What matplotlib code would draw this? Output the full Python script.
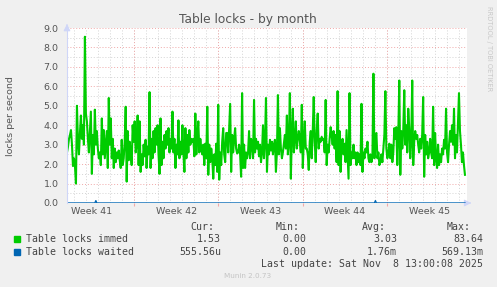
import numpy as np
import matplotlib.pyplot as plt
from matplotlib.patches import Rectangle

# Table locks per second, one sample every ~2 hours
immed = [
    2.6, 2.9, 3.3, 3.5, 3.75, 3.0, 1.9, 2.3, 1.9, 1.0, 5.0, 3.2, 2.5, 3.6, 4.5, 3.3, 4.0, 3.0,
    8.55, 4.6, 4.2, 3.3, 2.6, 3.6, 4.7, 1.5, 3.5, 2.5, 4.8, 3.0, 3.7, 2.8, 2.3, 2.6, 1.95, 4.35,
    2.5, 3.75, 2.3, 3.0, 3.7, 1.8, 5.4, 3.0, 4.35, 2.3, 3.3, 1.8, 2.8, 2.1, 2.6, 2.3, 2.7, 2.2,
    1.8, 3.25, 1.95, 2.3, 3.15, 4.95, 1.1, 3.7, 2.2, 3.15, 2.6, 1.95, 4.0, 3.15, 4.2, 2.6, 3.0,
    4.5, 1.95, 4.2, 1.6, 2.5, 1.95, 3.0, 2.4, 3.25, 1.8, 2.9, 2.5, 5.7,
    # week 42
    1.8, 3.3, 2.3, 3.7, 2.6, 3.85, 3.0, 4.0, 2.5, 1.5, 4.35, 1.95, 3.15, 2.3, 3.5, 2.8, 3.7, 3.0,
    3.85, 2.6, 3.3, 2.8, 4.7, 2.6, 3.3, 1.8, 3.0, 2.5, 4.25, 2.3, 3.15, 2.5, 4.0, 2.6, 1.6, 3.85,
    2.3, 3.5, 2.6, 3.75, 3.0, 3.3, 3.15, 3.3, 2.4, 4.6, 2.5, 3.5, 4.2, 2.6, 3.3, 2.8, 2.5, 3.0,
    1.95, 3.05, 2.3, 4.95, 1.45, 3.0, 2.1, 2.8, 2.3, 1.25, 2.5, 1.95, 3.05, 1.6, 5.05, 1.2, 2.6,
    1.95, 3.15, 3.85, 2.5, 2.1, 3.6,
    # week 43
    3.6, 2.6, 3.85, 5.1, 1.6, 3.5, 2.6, 3.3, 3.85, 2.8, 2.55, 2.6, 3.0, 2.5, 1.35, 5.65, 1.8, 3.0,
    1.8, 2.6, 2.3, 2.6, 3.7, 2.3, 3.3, 3.0, 2.3, 5.3, 2.6, 3.3, 2.8, 3.15, 2.4, 3.0, 2.1, 2.6,
    4.0, 2.3, 3.15, 5.4, 1.6, 3.0, 2.5, 3.25, 2.7, 3.15, 2.5, 3.0, 3.25, 1.6, 2.6, 5.55, 2.5,
    3.85, 2.8, 2.3, 2.6, 3.05, 3.5, 2.8, 4.5, 2.5, 3.15, 5.65, 1.25, 3.5, 4.85, 2.6, 3.3, 4.2,
    2.8, 3.3, 3.7, 3.25, 2.6, 5.05, 1.8, 3.15, 4.2, 2.8,
    # week 44
    2.8, 2.5, 1.7, 3.15, 3.7, 2.3, 3.7, 5.45, 3.15, 2.1, 3.7, 4.6, 2.8, 3.3, 3.15, 3.4, 3.25,
    3.3, 2.6, 5.3, 1.95, 3.0, 2.6, 3.3, 3.9, 3.5, 3.0, 3.7, 2.8, 3.5, 2.1, 5.75, 1.95, 3.7, 1.6,
    3.0, 3.3, 2.5, 3.05, 2.1, 3.75, 2.5, 1.25, 5.65, 1.95, 2.6, 2.3, 3.0, 2.3, 2.6, 1.95, 2.6,
    2.1, 2.5, 1.95, 5.1, 1.6, 2.6, 2.3, 2.8, 2.6, 3.15, 2.3, 2.1, 2.5, 2.1, 2.4, 6.65, 2.3, 3.5,
    3.6, 2.3, 2.6, 1.95, 2.1, 2.5, 2.1, 2.8, 3.5, 5.75, 2.8,
    # week 45
    2.3, 2.6, 3.05, 2.3, 3.0, 2.1, 2.6, 3.85, 3.3, 3.9, 1.95, 3.5, 6.3, 1.45, 3.7, 2.8, 3.75,
    5.8, 3.0, 4.0, 2.6, 4.85, 3.85, 2.3, 3.15, 6.3, 1.95, 3.15, 3.7, 3.3, 3.5, 3.0, 2.6, 3.3,
    2.8, 3.5, 5.45, 1.35, 3.5, 2.5, 3.15, 2.3, 2.6, 3.3, 2.6, 2.3, 4.95, 1.95, 3.6, 2.3, 1.8,
    3.0, 1.95, 2.5, 2.1, 2.8, 2.5, 3.25, 2.8, 4.85, 2.6, 2.1, 3.0, 3.7, 3.15, 4.0, 3.0, 4.85,
    2.3, 3.5, 2.6, 4.2, 5.65, 3.7, 3.0, 2.1, 2.6, 1.95, 1.45,
]
# Table locks waited: flat zero apart from two tiny blips
waited_blips = {29: 0.12, 310: 0.12}

week_labels = ["Week 41", "Week 42", "Week 43", "Week 44", "Week 45"]
week_starts = [5.56, 12.56, 19.56, 26.56]   # days from left edge of graph
x_max = 33.2
data_end = 33.03

legend_names = ["Table locks immed", "Table locks waited"]
legend_colors = ["#00cc00", "#0066b3"]
cur_vals = ["1.53", "555.56u"]
min_vals = ["0.00", "0.00"]
avg_vals = ["3.03", "1.76m"]
max_vals = ["83.64", "569.13m"]

W, H = 497, 287


def fx(x):
    return x / W


def fy(y):
    return 1 - y / H


waited = np.zeros(len(immed))
for i, v in waited_blips.items():
    waited[i] = v
t = np.linspace(0, data_end, len(immed))

fig = plt.figure(figsize=(W / 100, H / 100), dpi=100, facecolor="#f0f0f0")
ax = fig.add_axes([fx(67), fy(203), 400 / W, 175 / H], facecolor="white")
ax.set_xlim(0, x_max)
ax.set_ylim(0, 9)
for s in ax.spines.values():
    s.set_visible(False)

# grid: minor gray, major light red
grid_gray = "#d4d4d4"
grid_red = "#f0a8a8"
for y in np.arange(0.5, 9.01, 1.0):
    ax.axhline(y, color=grid_gray, lw=0.7, ls=(0, (1, 2)), zorder=0)
for y in range(1, 10):
    ax.axhline(y, color=grid_red, lw=0.7, ls=(0, (1, 2)), zorder=0)
first_day = week_starts[0] - int(week_starts[0])
for d in np.arange(first_day, x_max, 1.0):
    ax.axvline(d, color=grid_gray, lw=0.7, ls=(0, (1, 2)), zorder=0)
for w in week_starts:
    ax.axvline(w, color=grid_red, lw=0.7, ls=(0, (1, 2)), zorder=0)

ax.plot(t, immed, color=legend_colors[0], lw=1.5, zorder=3)
ax.plot(t, waited, color=legend_colors[1], lw=1.0, zorder=4)

# axes with arrows
axis_c = "#cfd6f8"
ax.plot([0, 0], [0, 9], color=axis_c, lw=0.8, clip_on=False, zorder=5)
ax.annotate("", xy=(x_max + 0.35, 0), xytext=(x_max, 0),
            arrowprops=dict(arrowstyle="-|>", color=axis_c, lw=0.8), annotation_clip=False)
ax.annotate("", xy=(0, 9.35), xytext=(0, 9),
            arrowprops=dict(arrowstyle="-|>", color=axis_c, lw=0.8), annotation_clip=False)

ax.set_yticks(range(10))
ax.set_yticklabels([f"{v:.1f}" for v in range(10)])
ax.tick_params(axis="y", length=0, pad=6, labelsize=6.8, labelcolor="#555555")
ax.set_xticks(week_starts)
ax.set_xticklabels([])
ax.tick_params(axis="x", which="major", length=2, color=grid_red)
ax.set_xticks([w - 3.5 for w in week_starts] + [week_starts[-1] + 3.5], minor=True)
ax.set_xticklabels(week_labels, minor=True)
ax.tick_params(axis="x", which="minor", length=0, pad=3, labelsize=6.8, labelcolor="#555555")

fig.text(fx(248), fy(19), "Table locks - by month", ha="center", va="center",
         fontsize=8.8, color="#555555")
fig.text(fx(11), fy(116), "locks per second", rotation=90, ha="center", va="center",
         fontsize=6.8, color="#555555")
fig.text(fx(489), fy(6), "RRDTOOL / TOBI OETIKER", rotation=270, ha="center", va="top",
         fontsize=4.8, color="#c8c8c8")

# legend block
mono = dict(family="DejaVu Sans Mono", fontsize=7.1, color="#444444", va="center")
fig.text(fx(190), fy(227), "Cur:", **mono)
fig.text(fx(276), fy(227), "Min:", **mono)
fig.text(fx(362), fy(227), "Avg:", **mono)
fig.text(fx(447), fy(227), "Max:", **mono)
rows = [239, 252]
for i, y in enumerate(rows):
    fig.add_artist(Rectangle((fx(14), fy(y + 3)), 6 / W, 6 / H,
                             transform=fig.transFigure, color=legend_colors[i]))
    fig.text(fx(26), fy(y), legend_names[i], **mono)
    fig.text(fx(221), fy(y), cur_vals[i], ha="right", **mono)
    fig.text(fx(306), fy(y), min_vals[i], ha="right", **mono)
    fig.text(fx(397), fy(y), avg_vals[i], ha="right", **mono)
    fig.text(fx(483), fy(y), max_vals[i], ha="right", **mono)
fig.text(fx(483), fy(264), "Last update: Sat Nov  8 13:00:08 2025", ha="right", **mono)
fig.text(fx(248), fy(276), "Munin 2.0.73", ha="center", va="center",
         fontsize=5.2, color="#c4c4c4")

fig.savefig("out.png", dpi=100, facecolor=fig.get_facecolor())
